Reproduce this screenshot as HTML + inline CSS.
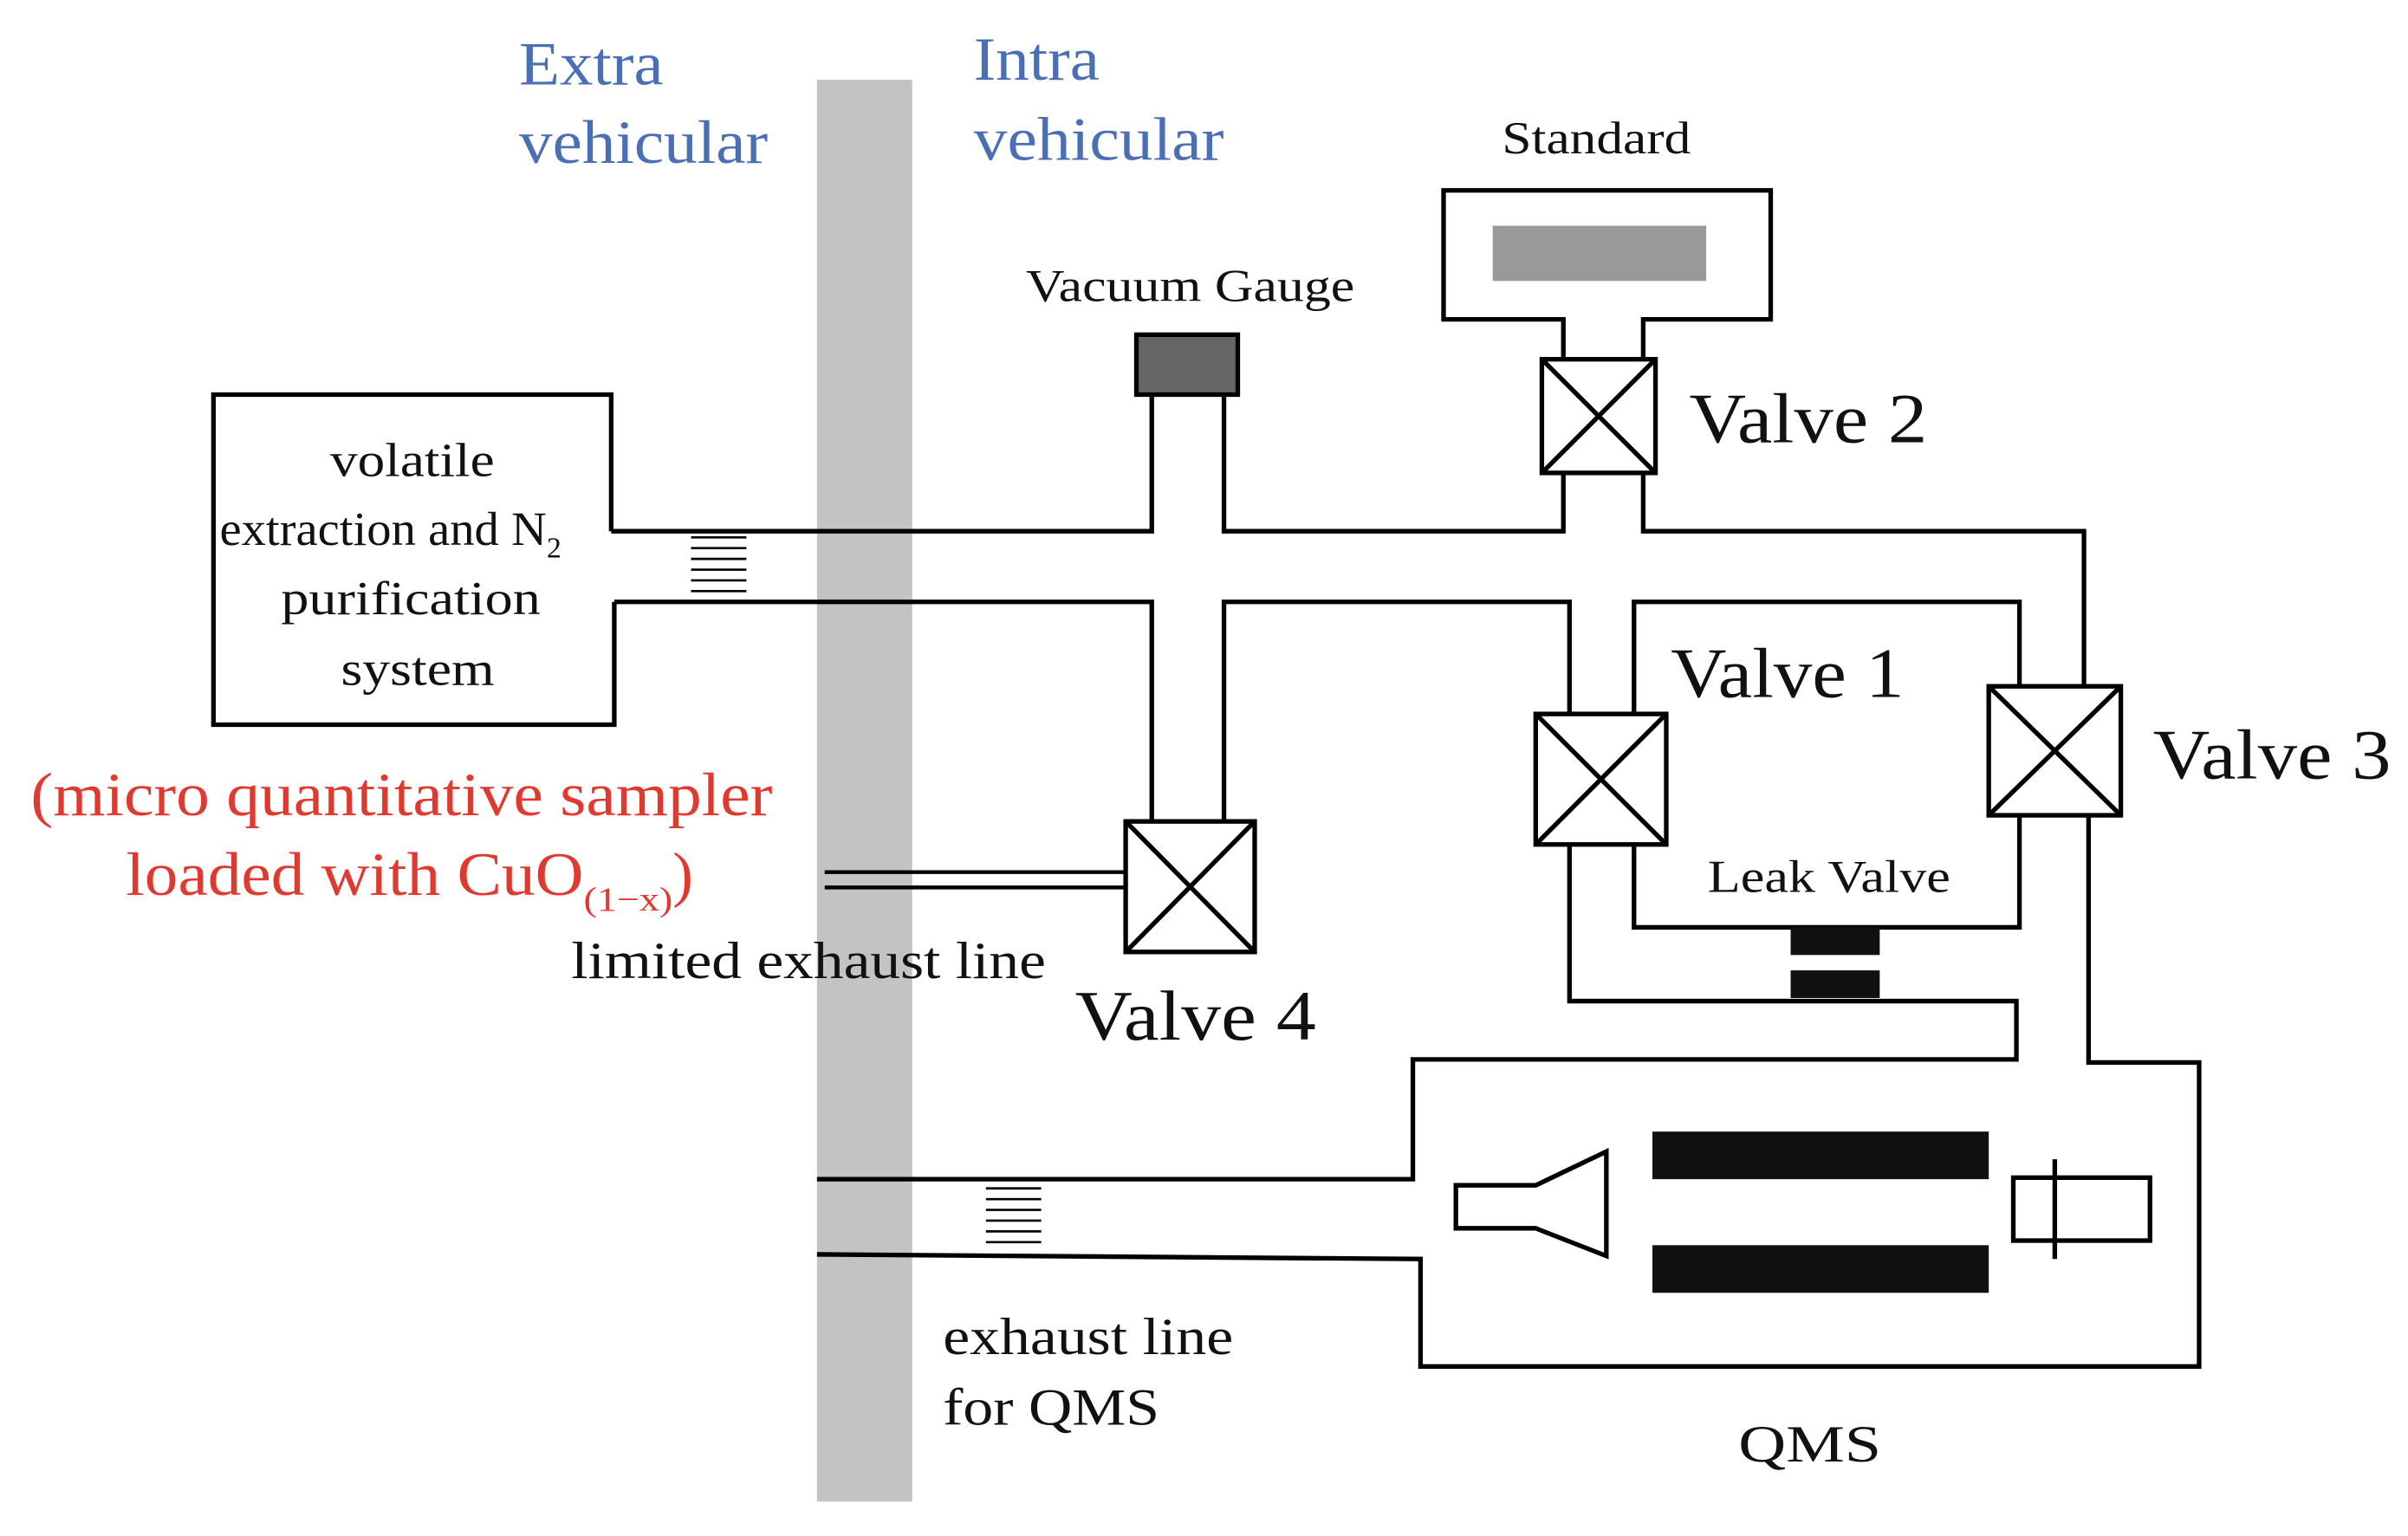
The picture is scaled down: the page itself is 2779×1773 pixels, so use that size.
<!DOCTYPE html>
<html><head><meta charset="utf-8"><style>html,body{margin:0;padding:0;background:#fff}svg{display:block}</style></head>
<body>
<svg width="2779" height="1773" viewBox="0 0 1568 1000.4" preserveAspectRatio="none" xmlns="http://www.w3.org/2000/svg" font-family="Liberation Serif, serif">
<rect x="532" y="52" width="62" height="926" fill="#c3c3c3"/>
<g fill="#4a6fb5" font-size="40">
<text x="338" y="55" textLength="94" lengthAdjust="spacingAndGlyphs">Extra</text><text x="338" y="106" textLength="162" lengthAdjust="spacingAndGlyphs">vehicular</text>
<text x="634" y="52" textLength="82" lengthAdjust="spacingAndGlyphs">Intra</text><text x="634" y="104" textLength="163" lengthAdjust="spacingAndGlyphs">vehicular</text>
</g>
<g fill="none" stroke="#000" stroke-width="3">
<path d="M1018,234 V208 H940 V124 H1153 V208 H1070 V234"/>
<path d="M398,346 V257 H139 V472 H400 V392"/>
<path d="M398,346 H750 V257"/>
<path d="M797,257 V346 H1018 V308"/>
<path d="M1070,308 V346 H1357 V447"/>
<path d="M400,392 H750 V535"/>
<path d="M797,535 V392 H1022 V465"/>
<path d="M1064,465 V392 H1315 V447"/>
<path d="M1064,550 V604 H1315 V531"/>
<path d="M1022,550 V652 H1313 V690 H920 V768 H532"/>
<path d="M532,817 L925,820 V890 H1432 V692 H1360 V531"/>
<path d="M537,568 H733 M537,578 H733" stroke-width="2.5"/>
<rect x="1004" y="234" width="74" height="74"/><path d="M1004,234 L1078,308 M1078,234 L1004,308"/>
<rect x="1000" y="465" width="85" height="85"/><path d="M1000,465 L1085,550 M1085,465 L1000,550"/>
<rect x="1295" y="447" width="86" height="84"/><path d="M1295,447 L1381,531 M1381,447 L1295,531"/>
<rect x="733" y="535" width="84" height="85"/><path d="M733,535 L817,620 M817,535 L733,620"/>
<polygon points="948,772 1000,772 1046,750 1046,818 1000,800 948,800"/>
<rect x="1311" y="767" width="89" height="41"/>
<path d="M1338,755 V820"/>
</g>
<rect x="972" y="147" width="139" height="36" fill="#999"/>
<rect x="740" y="218" width="66" height="39" fill="#666" stroke="#000" stroke-width="3"/>
<rect x="1166" y="604" width="58" height="18" fill="#111"/>
<rect x="1166" y="632" width="58" height="18" fill="#111"/>
<rect x="1076" y="737" width="219" height="31" fill="#111"/>
<rect x="1076" y="811" width="219" height="31" fill="#111"/>
<g stroke="#000" stroke-width="1.5">
<path d="M450,350H486M450,357H486M450,364H486M450,371H486M450,378H486M450,385H486"/>
<path d="M642,774H678M642,781H678M642,788H678M642,795H678M642,802H678M642,809H678"/>
</g>
<g fill="#111">
<text x="978" y="100" font-size="30" textLength="123" lengthAdjust="spacingAndGlyphs">Standard</text>
<text x="668" y="196" font-size="30" textLength="214" lengthAdjust="spacingAndGlyphs">Vacuum Gauge</text>
<text x="1100" y="288" font-size="46" textLength="155" lengthAdjust="spacingAndGlyphs">Valve 2</text>
<text x="1088" y="454" font-size="46" textLength="152" lengthAdjust="spacingAndGlyphs">Valve 1</text>
<text x="1402" y="507" font-size="46" textLength="155" lengthAdjust="spacingAndGlyphs">Valve 3</text>
<text x="700" y="677" font-size="46" textLength="157" lengthAdjust="spacingAndGlyphs">Valve 4</text>
<text x="1112" y="581" font-size="30" textLength="158" lengthAdjust="spacingAndGlyphs">Leak Valve</text>
<g font-size="31">
<text x="215" y="310" textLength="107" lengthAdjust="spacingAndGlyphs">volatile</text>
<text x="143" y="355"><tspan textLength="213" lengthAdjust="spacingAndGlyphs">extraction and N</tspan><tspan font-size="19" dy="8">2</tspan></text>
<text x="183" y="400" textLength="169" lengthAdjust="spacingAndGlyphs">purification</text>
<text x="222" y="446" textLength="100" lengthAdjust="spacingAndGlyphs">system</text>
</g>
<text x="372" y="637" font-size="34" textLength="309" lengthAdjust="spacingAndGlyphs">limited exhaust line</text>
<text x="614" y="882" font-size="34" textLength="189" lengthAdjust="spacingAndGlyphs">exhaust line</text>
<text x="614" y="928" font-size="34" textLength="141" lengthAdjust="spacingAndGlyphs">for QMS</text>
<text x="1132" y="952" font-size="34" textLength="93" lengthAdjust="spacingAndGlyphs">QMS</text>
</g>
<g fill="#e03a30" font-size="40">
<text x="20" y="531" textLength="483" lengthAdjust="spacingAndGlyphs">(micro quantitative sampler</text>
<text x="82" y="583"><tspan textLength="298" lengthAdjust="spacingAndGlyphs">loaded with CuO</tspan><tspan font-size="22" dy="10" textLength="58" lengthAdjust="spacingAndGlyphs">(1−x)</tspan><tspan dy="-10">)</tspan></text>
</g>
</svg>
</body></html>
